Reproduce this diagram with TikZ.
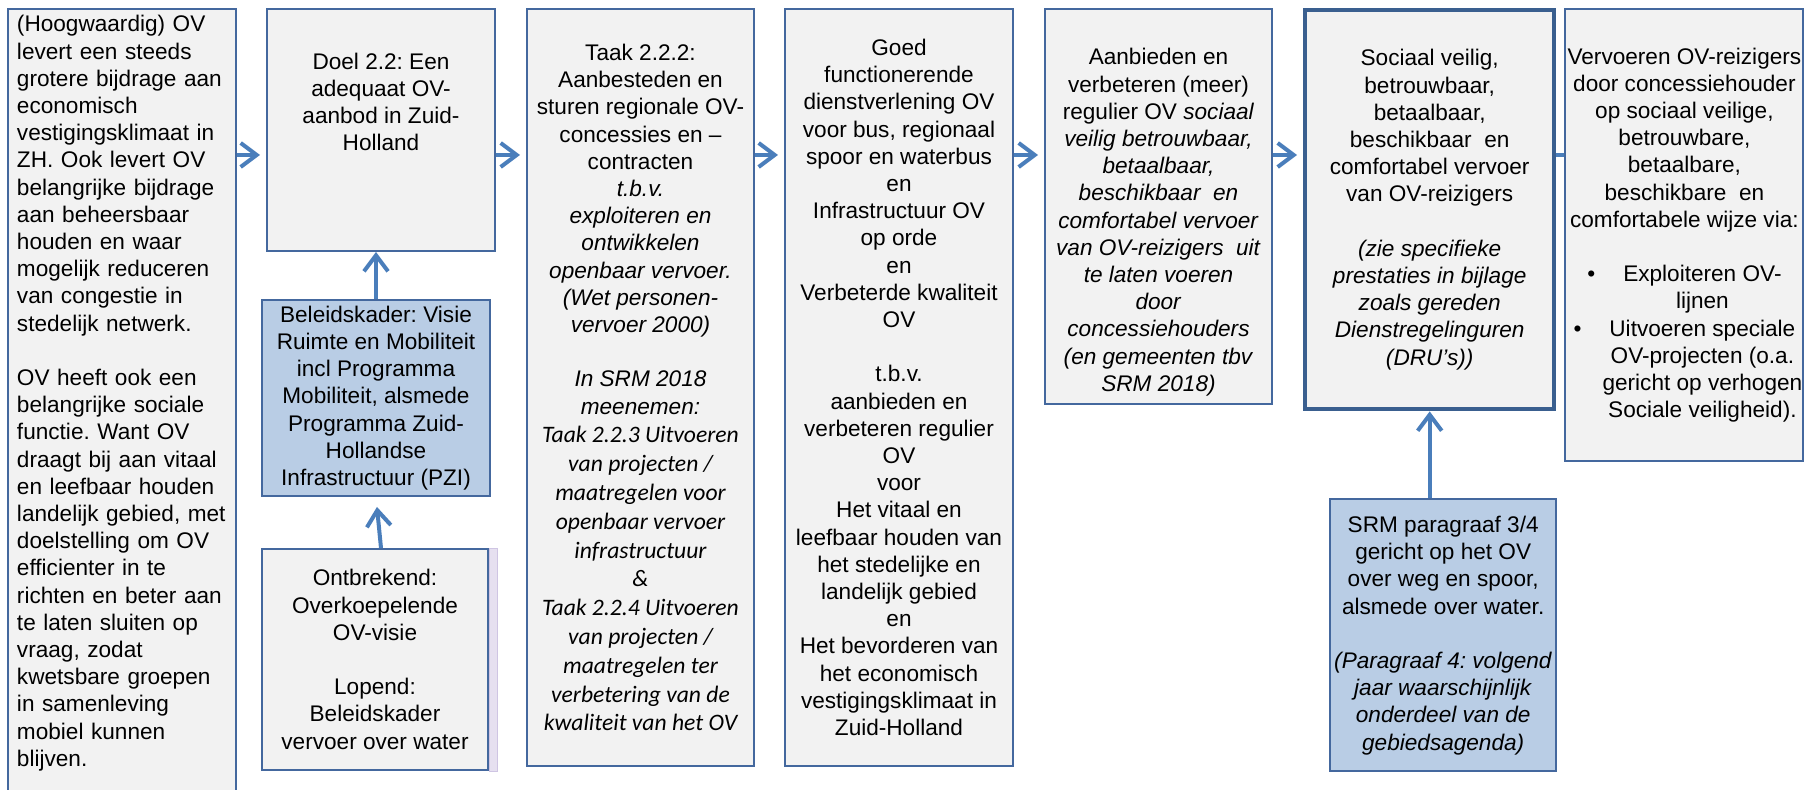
\documentclass[tikz,border=0pt]{standalone}
\usepackage{fontspec}
\setmainfont{Liberation Sans}
\newfontfamily\calibri{Carlito}
\usetikzlibrary{positioning}
\usetikzlibrary{arrows.meta}

\definecolor{boxgray}{HTML}{F2F2F2}
\definecolor{boxblue}{HTML}{B9CDE5}
\definecolor{boxline}{HTML}{44689E}
\definecolor{darkline}{HTML}{3A5F8F}
\definecolor{arrowblue}{HTML}{4A7EBB}
\definecolor{shadowfill}{HTML}{E6E0F0}
\definecolor{shadowline}{HTML}{CFC5E3}

\newcommand{\taakline}[1]{{\fontsize{11.8}{14.4}\selectfont\calibri\itshape #1}}
\newcommand{\bulletline}[1]{\hspace*{18pt}\llap{\textbullet\hspace{14pt}}#1}

\begin{document}
\begin{tikzpicture}[auto,node distance=14.5pt,
			main node/.style={draw=boxline,fill=boxgray,line width=1pt,
				inner sep=0pt,align=center,anchor=north west,
				font=\fontsize{11.3}{13.6}\selectfont\frenchspacing},
			blue node/.style={main node,fill=boxblue},
			link/.style={draw=arrowblue,line width=2pt,
				-{Straight Barb[length=8pt,width=12pt]}}]
			
			\useasboundingbox (0,0) rectangle (903pt,-395pt);
			\clip (0,0) rectangle (903pt,-395pt);
			
			\node[main node,minimum width=114pt,minimum height=400pt,
				text width=105pt,inner xsep=4.5pt,align=left] (context) at (3.5pt,-4pt)
				{(Hoogwaardig) OV\\levert een steeds\\grotere bijdrage aan\\economisch\\
				vestigingsklimaat in\\ZH. Ook levert OV\\belangrijke bijdrage\\
				aan beheersbaar\\houden en waar\\mogelijk reduceren\\van congestie in\\
				stedelijk netwerk.\\[13.6pt]
				OV heeft ook een\\belangrijke sociale\\functie. Want OV\\
				draagt bij aan vitaal\\en leefbaar houden\\landelijk gebied, met\\
				doelstelling om OV\\efficienter in te\\richten en beter aan\\
				te laten sluiten op\\vraag, zodat\\kwetsbare groepen\\in samenleving\\
				mobiel kunnen\\blijven.\rule[-18pt]{0pt}{0pt}};
			\node[main node,minimum width=114pt,minimum height=121pt] (doel)
				[right=14.5pt of context.north east,anchor=north west]
				{Doel 2.2: Een\\adequaat OV-\\aanbod in Zuid-\\Holland\rule[-28pt]{0pt}{0pt}};
			\node[blue node,minimum width=114pt,minimum height=98pt] (beleid)
				[below=23.5pt of doel,xshift=-2.5pt]
				{Beleidskader: Visie\\Ruimte en Mobiliteit\\incl Programma\\
				Mobiliteit, alsmede\\Programma Zuid-\\Hollandse\\Infrastructuur (PZI)};
			\node[main node,minimum width=113pt,minimum height=110.5pt] (ontbrekend)
				[below=25.5pt of beleid,xshift=-0.5pt]
				{Ontbrekend:\\Overkoepelende\\OV-visie\\[13.6pt]
				Lopend:\\Beleidskader\\vervoer over water};
			\node[main node,minimum width=113.5pt,minimum height=378.5pt] (taak)
				[right=15pt of doel.north east,anchor=north west]
				{Taak 2.2.2:\\Aanbesteden en\\sturen regionale OV-\\concessies en –\\contracten\\
				\textit{t.b.v.}\\\textit{exploiteren en}\\\textit{ontwikkelen}\\
				\textit{openbaar vervoer.}\\\textit{(Wet personen-}\\\textit{vervoer 2000)}\\[13.6pt]
				\textit{In SRM 2018}\\\textit{meenemen:}\\[0.8pt]
				\taakline{Taak 2.2.3 Uitvoeren}\\[0.8pt]\taakline{van projecten /}\\[0.8pt]
				\taakline{maatregelen voor}\\[0.8pt]\taakline{openbaar vervoer}\\[0.8pt]
				\taakline{infrastructuur}\\[0.8pt]\taakline{\&}\\[0.8pt]
				\taakline{Taak 2.2.4 Uitvoeren}\\[0.8pt]\taakline{van projecten /}\\[0.8pt]
				\taakline{maatregelen ter}\\[0.8pt]\taakline{verbetering van de}\\[0.8pt]
				\taakline{kwaliteit van het OV}};
			\node[main node,minimum width=114pt,minimum height=378.5pt] (effect)
				[right=14.5pt of taak.north east,anchor=north west]
				{Goed\\functionerende\\dienstverlening OV\\voor bus, regionaal\\
				spoor en waterbus\\en\\Infrastructuur OV\\op orde\\en\\
				Verbeterde kwaliteit\\OV\\[13.6pt]
				t.b.v.\\aanbieden en\\verbeteren regulier\\OV\\voor\\Het vitaal en\\
				leefbaar houden van\\het stedelijke en\\landelijk gebied\\en\\
				Het bevorderen van\\het economisch\\vestigingsklimaat in\\Zuid-Holland};
			\node[main node,minimum width=113.5pt,minimum height=197.5pt] (aanbod)
				[right=15pt of effect.north east,anchor=north west]
				{\rule{0pt}{24pt}Aanbieden en\\verbeteren (meer)\\regulier OV \textit{sociaal}\\
				\textit{veilig betrouwbaar,}\\\textit{betaalbaar,}\\\textit{beschikbaar\ \ en}\\
				\textit{comfortabel vervoer}\\\textit{van OV-reizigers\ \ uit}\\
				\textit{te laten voeren}\\\textit{door}\\\textit{concessiehouders}\\
				\textit{(en gemeenten tbv}\\\textit{SRM 2018)}};
			\node[main node,draw=darkline,line width=2.2pt,minimum width=124.5pt,
				minimum height=199.5pt] (prestatie)
				[right=15pt of aanbod.north east,anchor=north west]
				{Sociaal veilig,\\betrouwbaar,\\betaalbaar,\\beschikbaar\ \ en\\
				comfortabel vervoer\\van OV-reizigers\\[13.6pt]
				\textit{(zie specifieke}\\\textit{prestaties in bijlage}\\
				\textit{zoals gereden}\\\textit{Dienstregelinguren}\\\textit{(DRU’s))}};
			\node[main node,minimum width=119pt,minimum height=226pt] (vervoer)
				[right=4pt of prestatie.north east,anchor=north west]
				{Vervoeren OV-reizigers\\door concessiehouder\\op sociaal veilige,\\
				betrouwbare,\\betaalbare,\\beschikbare\ \ en\\comfortabele wijze via:\\[13.6pt]
				\bulletline{Exploiteren OV-}\\\hspace*{18pt}lijnen\\
				\bulletline{Uitvoeren speciale}\\\hspace*{18pt}OV-projecten (o.a.\\
				\hspace*{18pt}gericht op verhogen\\\hspace*{18pt}Sociale veiligheid).};
			\node[blue node,minimum width=113pt,minimum height=136pt] (srm)
				[below=43.5pt of prestatie,xshift=6.75pt]
				{SRM paragraaf 3/4\\gericht op het OV\\over weg en spoor,\\
				alsmede over water.\\[13.6pt]
				\textit{(Paragraaf 4: volgend}\\\textit{jaar waarschijnlijk}\\
				\textit{onderdeel van de}\\\textit{gebiedsagenda)}};
			
			% shadow strip next to the open items
			\draw[draw=shadowline,fill=shadowfill] (ontbrekend.north east)
				rectangle ([xshift=4pt]ontbrekend.south east);
			
			\path[every edge/.style={link,shorten >=3pt}]
			([yshift=-73.5pt]context.north east) edge ([yshift=-73.5pt]doel.north west)
			([yshift=-73.5pt]doel.north east) edge ([yshift=-73.5pt]taak.north west)
			([yshift=-73.5pt]taak.north east) edge ([yshift=-73.5pt]effect.north west)
			([yshift=-73.5pt]effect.north east) edge ([yshift=-73.5pt]aanbod.north west)
			([yshift=-73.5pt]aanbod.north east) edge ([yshift=-73.5pt]prestatie.north west);
			
			\draw[arrowblue,line width=2pt]
			([yshift=-73.5pt]prestatie.north east) -- ([yshift=-73.5pt]vervoer.north west);
			
			\path[every edge/.style={link}]
			(beleid.north) edge (beleid.north |- doel.south)
			([xshift=3pt]ontbrekend.north) edge[shorten >=5pt] (beleid.south)
			(srm.north -| prestatie.south) edge (prestatie.south);
			
		\end{tikzpicture}
\end{document}
